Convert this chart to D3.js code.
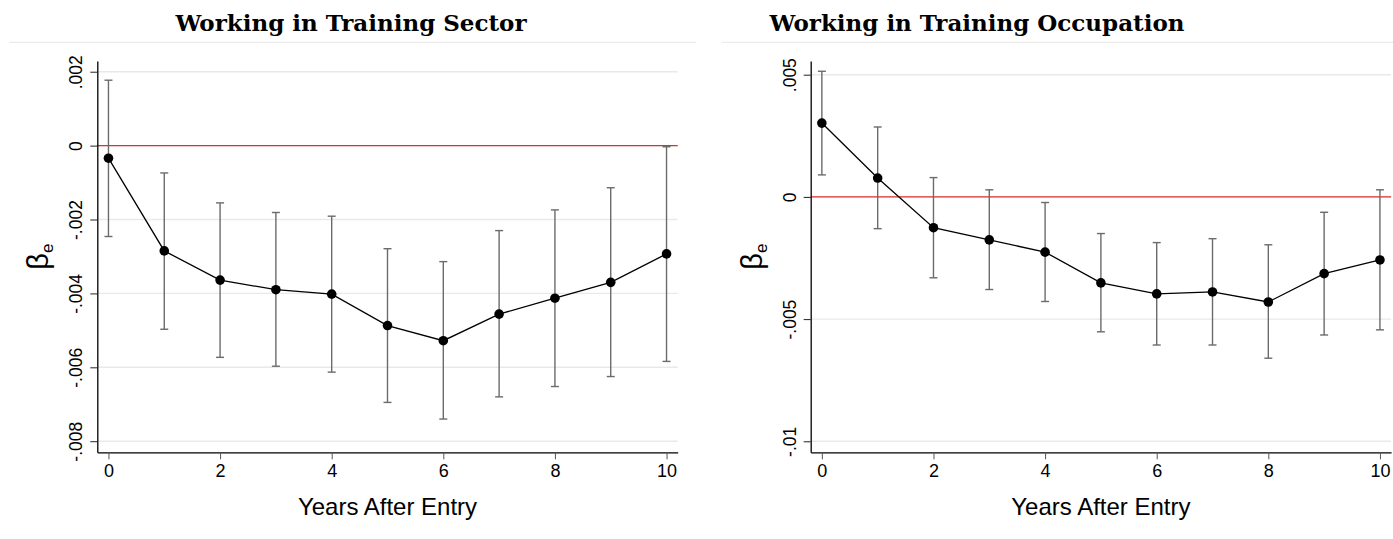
<!DOCTYPE html>
<html>
<head>
<meta charset="utf-8">
<script src="https://cdn.jsdelivr.net/npm/d3@7"></script>
<style>
  body { margin: 0; background: #fff; }
  text { font-family: "Liberation Sans", Arial, sans-serif; }
</style>
</head>
<body>
<div id="chart"></div>
<script>
// years after entry, shared by both panels
const years = [0, 1, 2, 3, 4, 5, 6, 7, 8, 9, 10];
const xTicks = [0, 2, 4, 6, 8, 10];

// working in training sector
const sectorCoef = [-0.00034, -0.00285, -0.00364, -0.0039, -0.00402, -0.00487, -0.00528, -0.00456, -0.00413, -0.0037, -0.00293];
const sectorLo = [-0.00246, -0.00497, -0.00573, -0.00597, -0.00613, -0.00695, -0.0074, -0.0068, -0.00652, -0.00625, -0.00584];
const sectorHi = [0.00177, -0.00074, -0.00155, -0.00181, -0.00191, -0.00279, -0.00314, -0.0023, -0.00174, -0.00114, -0.00003];
const sectorTicks = [-0.008, -0.006, -0.004, -0.002, 0, 0.002];
const sectorTickLabels = ["-.008", "-.006", "-.004", "-.002", "0", ".002"];

// working in training occupation
const occCoef = [0.00302, 0.00077, -0.00126, -0.00176, -0.00226, -0.00352, -0.00397, -0.00389, -0.0043, -0.00314, -0.00258];
const occLo = [0.0009, -0.0013, -0.00331, -0.00379, -0.00428, -0.00552, -0.00606, -0.00606, -0.0066, -0.00565, -0.00544];
const occHi = [0.00514, 0.00286, 0.00079, 0.00029, -0.00023, -0.0015, -0.00187, -0.00171, -0.00196, -0.00063, 0.00029];
const occTicks = [-0.01, -0.005, 0, 0.005];
const occTickLabels = ["-.01", "-.005", "0", ".005"];

const width = 1393, height = 539;
const svg = d3.select("#chart").append("svg")
  .attr("width", width)
  .attr("height", height)
  .style("background", "#fff");

function drawPanel(opts) {
  const g = svg.append("g").attr("transform", `translate(${opts.offset},0)`);
  const left = 97.3, right = 677.7, top = 61, bottom = 452.3;

  const x = d3.scaleLinear().domain([-0.2, 10.2]).range([left, right]);
  const y = d3.scaleLinear().domain(opts.yDomain).range([bottom, top]);

  // title + separator
  g.append("text")
    .attr("x", opts.titleX)
    .attr("y", 31)
    .attr("text-anchor", "middle")
    .style("font-family", "'DejaVu Serif', serif")
    .style("font-weight", "bold")
    .style("font-size", "23px")
    .text(opts.title);
  g.append("line")
    .attr("x1", opts.sepX[0]).attr("x2", opts.sepX[1])
    .attr("y1", 42.3).attr("y2", 42.3)
    .attr("stroke", "#ececec").attr("stroke-width", 1.2);

  // gridlines
  g.selectAll(".grid")
    .data(opts.ticks)
    .enter().append("line")
    .attr("class", "grid")
    .attr("x1", left).attr("x2", right)
    .attr("y1", d => y(d)).attr("y2", d => y(d))
    .attr("stroke", "#e9e9e9").attr("stroke-width", 1.4);

  // zero line
  g.append("line")
    .attr("x1", left).attr("x2", right)
    .attr("y1", y(0)).attr("y2", y(0))
    .attr("stroke", "#e0302e").attr("stroke-width", 1.4);

  // axes
  const yAxis = d3.axisLeft(y)
    .tickValues(opts.ticks)
    .tickFormat((d, i) => opts.tickLabels[i])
    .tickSize(7).tickSizeOuter(0).tickPadding(6);
  const ya = g.append("g").attr("transform", `translate(${left},0)`).call(yAxis);
  ya.select(".domain").attr("stroke", "#000").attr("stroke-width", 1.3);
  ya.selectAll(".tick line").attr("stroke", "#222");
  ya.selectAll(".tick text")
    .attr("x", 0).attr("dy", 0)
    .attr("text-anchor", "middle")
    .attr("transform", "translate(-15,0) rotate(-90)")
    .style("font-size", "17.5px")
    .attr("fill", "#000");

  const xAxis = d3.axisBottom(x)
    .tickValues(xTicks)
    .tickFormat(d3.format("d"))
    .tickSize(7).tickSizeOuter(0).tickPadding(5);
  const xa = g.append("g").attr("transform", `translate(0,${bottom})`).call(xAxis);
  xa.select(".domain").attr("stroke", "#000").attr("stroke-width", 1.3);
  xa.selectAll(".tick line").attr("stroke", "#555");
  xa.selectAll(".tick text")
    .style("font-size", "18px")
    .attr("fill", "#000");

  // axis titles
  g.append("text")
    .attr("x", (left + right) / 2)
    .attr("y", 515)
    .attr("text-anchor", "middle")
    .style("font-size", "24px")
    .text("Years After Entry");

  const yl = g.append("text")
    .attr("transform", `translate(${left - 49},${(top + bottom) / 2}) rotate(-90)`)
    .attr("text-anchor", "middle")
    .style("font-size", "29px");
  yl.append("tspan").text("β");
  yl.append("tspan").attr("dy", 5).style("font-size", "17px").text("e");

  // error bars
  const ci = years.map((yr, i) => ({ yr, lo: opts.lo[i], hi: opts.hi[i] }));
  const bars = g.append("g")
    .attr("stroke", "#6b6b6b").attr("stroke-width", 1.4).attr("fill", "none");
  bars.selectAll(".ci")
    .data(ci).enter().append("line")
    .attr("x1", d => x(d.yr)).attr("x2", d => x(d.yr))
    .attr("y1", d => y(d.lo)).attr("y2", d => y(d.hi));
  bars.selectAll(".capHi")
    .data(ci).enter().append("line")
    .attr("x1", d => x(d.yr) - 4).attr("x2", d => x(d.yr) + 4)
    .attr("y1", d => y(d.hi)).attr("y2", d => y(d.hi));
  bars.selectAll(".capLo")
    .data(ci).enter().append("line")
    .attr("x1", d => x(d.yr) - 4).attr("x2", d => x(d.yr) + 4)
    .attr("y1", d => y(d.lo)).attr("y2", d => y(d.lo));

  // estimates
  const pts = years.map((yr, i) => ({ yr, v: opts.coef[i] }));
  g.append("path")
    .datum(pts)
    .attr("fill", "none")
    .attr("stroke", "#000")
    .attr("stroke-width", 1.3)
    .attr("d", d3.line().x(d => x(d.yr)).y(d => y(d.v)));
  g.selectAll(".pt")
    .data(pts).enter().append("circle")
    .attr("cx", d => x(d.yr))
    .attr("cy", d => y(d.v))
    .attr("r", 4.8)
    .attr("fill", "#000");
}

drawPanel({
  offset: 0,
  title: "Working in Training Sector",
  titleX: 351,
  sepX: [9, 696],
  yDomain: [-0.0083, 0.00229],
  ticks: sectorTicks,
  tickLabels: sectorTickLabels,
  coef: sectorCoef, lo: sectorLo, hi: sectorHi
});

drawPanel({
  offset: 713.4,
  title: "Working in Training Occupation",
  titleX: 977 - 713.4,
  sepX: [8.3, 700],
  yDomain: [-0.01045, 0.00556],
  ticks: occTicks,
  tickLabels: occTickLabels,
  coef: occCoef, lo: occLo, hi: occHi
});
</script>
</body>
</html>
